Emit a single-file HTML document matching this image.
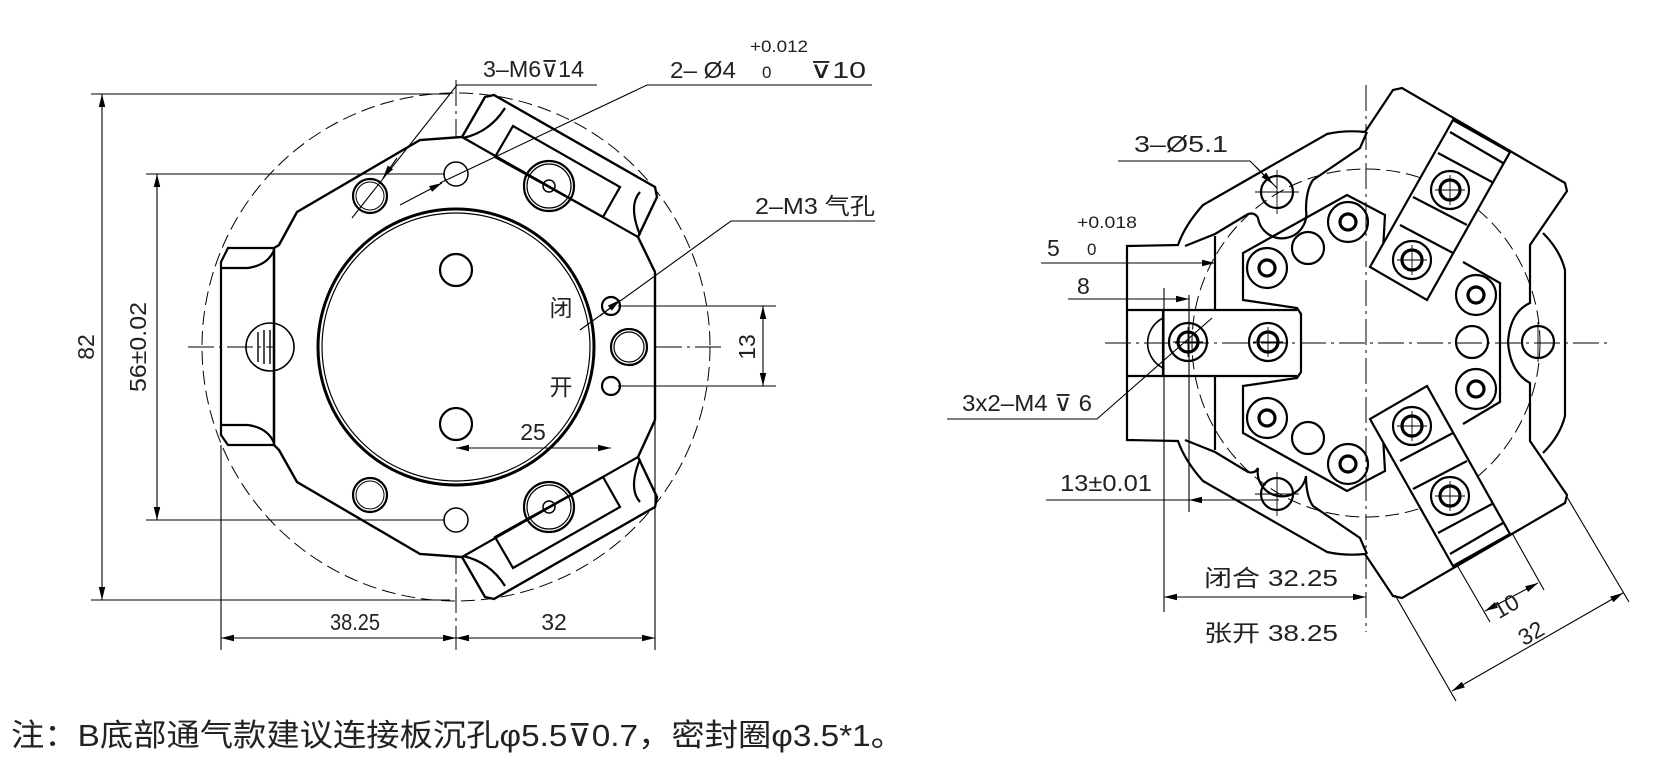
<!DOCTYPE html>
<html><head><meta charset="utf-8"><style>
html,body{margin:0;padding:0;background:#fff;}
svg{display:block;}
text{font-family:"Liberation Sans","Noto Sans CJK SC",sans-serif;fill:#222;}
</style></head><body>
<svg width="1677" height="783" viewBox="0 0 1677 783" xmlns="http://www.w3.org/2000/svg">
<defs>
<marker id="a" viewBox="0 0 10 10" refX="10" refY="5" markerWidth="13" markerHeight="13" markerUnits="userSpaceOnUse" orient="auto-start-reverse"><path d="M0,2.5 L10,5 L0,7.5 Z" fill="#000"/></marker>
</defs>
<g fill="none" stroke="#000">
<!-- ========== LEFT VIEW ========== -->
<g stroke-width="1" stroke-dasharray="14,6">
<circle cx="456" cy="347" r="254"/>
<circle cx="456" cy="347" r="172"/>
</g>
<g stroke-width="1" stroke-dasharray="26,5,3,5">
<line x1="456" y1="80" x2="456" y2="650"/>
<line x1="188" y1="347" x2="722" y2="347"/>
<line x1="611" y1="292" x2="611" y2="455"/>
</g>
<g stroke-width="2.4" fill="#fff">
<path d="M462,137 L485,97 L494,95 L655,187 L657,197 L638,237 L655,272 L655,420 L638,457 L657,497 L655,507 L494,599 L485,597 L462,557 L420,554 L297,482 L279,450 L274,445 L274,248 L279,245 L297,212 L420,140 Z"/>
</g>
<g stroke-width="2.2">
<line x1="462" y1="137" x2="638" y2="237"/>
<line x1="462" y1="557" x2="638" y2="457"/>
<path d="M513,126 L620,187 L603,217 L495,157 Z"/>
<path d="M513,568 L620,507 L603,477 L495,537 Z"/>
<path d="M463,138 Q490,132 505,108"/>
<path d="M463,556 Q490,562 505,586"/>
<path d="M640,192 Q628,205 640,235"/>
<path d="M640,502 Q628,489 640,459"/>
<path d="M221,262 L228,248 L274,248 L274,445 L228,445 L221,435 Z"/>
<path d="M221,268 L248,268 Q268,265 274,250"/>
<path d="M221,425 L248,425 Q268,428 274,443"/>
<circle cx="456" cy="347" r="138" stroke-width="3"/>
<circle cx="456" cy="347" r="134" stroke-width="1.2"/>
<circle cx="456" cy="270" r="16"/>
<circle cx="456" cy="424" r="16"/>
<circle cx="456" cy="174" r="12" stroke-width="1.5"/>
<circle cx="456" cy="520" r="12" stroke-width="1.5"/>
<circle cx="370" cy="196" r="17"/><circle cx="370" cy="196" r="14" stroke-width="1"/>
<circle cx="370" cy="495" r="17"/><circle cx="370" cy="495" r="14" stroke-width="1"/>
<circle cx="549" cy="186" r="25"/><circle cx="549" cy="186" r="22" stroke-width="1.2"/><circle cx="549" cy="186" r="6" stroke-width="1.5"/>
<circle cx="549" cy="507" r="25"/><circle cx="549" cy="507" r="22" stroke-width="1.2"/><circle cx="549" cy="507" r="6" stroke-width="1.5"/>
<circle cx="611" cy="306" r="9"/>
<circle cx="611" cy="386" r="9"/>
<circle cx="629" cy="347" r="18"/><circle cx="629" cy="347" r="15" stroke-width="1.2"/>
<circle cx="270" cy="347" r="24" stroke-width="1.6"/>
<line x1="258" y1="332" x2="258" y2="362" stroke-width="1.4"/>
<line x1="264" y1="330" x2="264" y2="364" stroke-width="1.4"/>
<line x1="270" y1="330" x2="270" y2="364" stroke-width="1.4"/>
</g>
<g stroke-width="1.1">
<line x1="91" y1="94" x2="450" y2="94"/>
<line x1="91" y1="600" x2="450" y2="600"/>
<line x1="102" y1="94" x2="102" y2="600" marker-start="url(#a)" marker-end="url(#a)"/>
<line x1="146" y1="174" x2="445" y2="174"/>
<line x1="146" y1="520" x2="445" y2="520"/>
<line x1="157" y1="174" x2="157" y2="520" marker-start="url(#a)" marker-end="url(#a)"/>
<line x1="221" y1="445" x2="221" y2="650"/>
<line x1="655" y1="420" x2="655" y2="650"/>
<line x1="221" y1="638" x2="456" y2="638" marker-start="url(#a)" marker-end="url(#a)"/>
<line x1="456" y1="638" x2="655" y2="638" marker-start="url(#a)" marker-end="url(#a)"/>
<line x1="618" y1="306" x2="776" y2="306"/>
<line x1="618" y1="386" x2="776" y2="386"/>
<line x1="763" y1="306" x2="763" y2="386" marker-start="url(#a)" marker-end="url(#a)"/>
<line x1="456" y1="448" x2="611" y2="448" marker-start="url(#a)" marker-end="url(#a)"/>
<polyline points="597,85 457,85 352,218"/>
<line x1="397" y1="158" x2="383" y2="178" marker-end="url(#a)"/>
<polyline points="872,85 647,85 440,183"/>
<line x1="400" y1="205" x2="442" y2="183" marker-end="url(#a)"/>
<polyline points="875,221 731,221 580,330"/>
<line x1="600" y1="316" x2="620" y2="300" marker-end="url(#a)"/>
</g>
<!-- ========== RIGHT VIEW ========== -->
<circle cx="1366" cy="343" r="174" stroke-width="1" stroke-dasharray="14,6"/>
<g stroke-width="1" stroke-dasharray="26,5,3,5">
<line x1="1366" y1="85" x2="1366" y2="632"/>
<line x1="1105" y1="343" x2="1609" y2="343"/>
</g>
<g stroke-width="2.2">
<path d="M1127,440 L1127,246 L1178,245 Q1185,225 1203,205 L1327,134 Q1345,130 1365,132 L1393,90 L1402,88 L1565,183 L1567,191 L1530,245 L1530,303 Q1510,312 1508,342 Q1510,372 1530,383 L1530,441 L1567,495 L1565,503 L1402,598 L1393,596 L1365,554 Q1345,556 1327,552 L1203,481 Q1185,461 1178,441 Z"/>
<path d="M1543,233 Q1560,250 1565,270 L1565,416 Q1560,436 1543,453"/>
<path d="M1185,246 Q1200,240 1215,234 L1248,214 Q1255,212 1258,218 A22,22 0 0 0 1306,210 Q1306,190 1313,180 L1360,148 L1367,132"/>
<path d="M1185,440 Q1200,446 1215,452 L1248,472 Q1255,474 1258,468 A22,22 0 0 0 1306,476 Q1306,496 1313,506 L1360,538 L1367,554"/>
<line x1="1215" y1="236" x2="1215" y2="310"/>
<line x1="1215" y1="376" x2="1215" y2="450"/>
<line x1="1127" y1="310" x2="1297" y2="310"/>
<line x1="1127" y1="376" x2="1297" y2="376"/>
<line x1="1163" y1="310" x2="1163" y2="376"/>
<path d="M1163,318 A28,28 0 0 0 1163,368" stroke-width="1.6"/>
<!-- central plate -->
<path d="M1383,250 L1385,215 L1347,195 L1243,253 L1243,300 L1297,308 L1301,314 L1301,372 L1297,378 L1243,386 L1243,433 L1347,491 L1385,471 L1383,436"/>
<path d="M1463,262 L1500,283 L1500,402 L1463,424"/>
<!-- upper finger -->
<path fill="#fff" d="M1453,120 L1510,152 L1427,300 L1370,267 Z"/>
<path d="M1450,132 L1503,163 M1438,153 L1492,182 M1413,197 L1467,225 M1400,225 L1453,253"/>
<!-- lower finger -->
<path fill="#fff" d="M1453,566 L1510,534 L1427,386 L1370,419 Z"/>
<path d="M1450,554 L1503,523 M1438,533 L1492,504 M1413,489 L1467,461 M1400,461 L1453,433"/>
<circle cx="1277" cy="192" r="16"/>
<circle cx="1277" cy="494" r="16"/>
<circle cx="1538" cy="342" r="16"/>
<circle cx="1308" cy="248" r="16"/>
<circle cx="1472" cy="342" r="16"/>
<circle cx="1308" cy="438" r="16"/>
</g>
<g stroke-width="2.2">
<g><circle cx="1267" cy="268" r="20"/><circle cx="1267" cy="268" r="8" stroke-width="3.2"/></g>
<g><circle cx="1348" cy="222" r="20"/><circle cx="1348" cy="222" r="8" stroke-width="3.2"/></g>
<g><circle cx="1476" cy="295" r="20"/><circle cx="1476" cy="295" r="8" stroke-width="3.2"/></g>
<g><circle cx="1476" cy="389" r="20"/><circle cx="1476" cy="389" r="8" stroke-width="3.2"/></g>
<g><circle cx="1348" cy="464" r="20"/><circle cx="1348" cy="464" r="8" stroke-width="3.2"/></g>
<g><circle cx="1267" cy="418" r="20"/><circle cx="1267" cy="418" r="8" stroke-width="3.2"/></g>
<g><circle cx="1268" cy="342" r="19"/><circle cx="1268" cy="342" r="10" stroke-width="3.2"/></g>
<g><circle cx="1188" cy="342" r="19"/><circle cx="1188" cy="342" r="10" stroke-width="3.2"/></g>
<g><circle cx="1450" cy="190" r="19"/><circle cx="1450" cy="190" r="10" stroke-width="3.2"/></g>
<g><circle cx="1412" cy="260" r="19"/><circle cx="1412" cy="260" r="10" stroke-width="3.2"/></g>
<g><circle cx="1450" cy="496" r="19"/><circle cx="1450" cy="496" r="10" stroke-width="3.2"/></g>
<g><circle cx="1412" cy="426" r="19"/><circle cx="1412" cy="426" r="10" stroke-width="3.2"/></g>
</g>
<g stroke-width="0.9">
<path d="M1435,190 H1465 M1450,175 V205 M1397,260 H1427 M1412,245 V275 M1435,496 H1465 M1450,481 V511 M1397,426 H1427 M1412,411 V441 M1253,342 H1283 M1268,327 V357 M1173,342 H1203 M1188,327 V357 M1255,192 H1299 M1277,170 V214 M1255,494 H1299 M1277,472 V516 M1538,322 V362"/>
</g>
<g stroke-width="1.1">
<polyline points="1118,161 1250,161 1277,188"/>
<line x1="1255" y1="166" x2="1273" y2="184" marker-end="url(#a)"/>
<line x1="1041" y1="263" x2="1215" y2="263" marker-end="url(#a)"/>
<line x1="1068" y1="299" x2="1189" y2="299" marker-end="url(#a)"/>
<line x1="1164" y1="288" x2="1164" y2="612"/>
<line x1="1189" y1="295" x2="1189" y2="512"/>
<polyline points="947,419 1097,419 1212,318"/>
<line x1="1046" y1="500" x2="1279" y2="500"/>
<line x1="1215" y1="500" x2="1189" y2="500" marker-end="url(#a)"/>
<line x1="1164" y1="597" x2="1366" y2="597" marker-start="url(#a)" marker-end="url(#a)"/>
<line x1="1395" y1="595" x2="1456" y2="701"/>
<line x1="1567" y1="497" x2="1629" y2="602"/>
<line x1="1452" y1="691" x2="1623" y2="593" marker-start="url(#a)" marker-end="url(#a)"/>
<line x1="1457" y1="565" x2="1490" y2="622"/>
<line x1="1512" y1="533" x2="1544" y2="590"/>
<line x1="1485" y1="611" x2="1538" y2="583" marker-start="url(#a)" marker-end="url(#a)"/>
</g>
</g>
<!-- ========== TEXT ========== -->
<g font-size="23">
<text x="86" y="347" text-anchor="middle" transform="rotate(-90 86 347)" dy="8">82</text>
<text x="138" y="347" text-anchor="middle" transform="rotate(-90 138 347)" dy="8" textLength="90" lengthAdjust="spacingAndGlyphs">56±0.02</text>
<text x="355" y="630" text-anchor="middle" textLength="50" lengthAdjust="spacingAndGlyphs">38.25</text>
<text x="554" y="630" text-anchor="middle">32</text>
<text x="747" y="347" text-anchor="middle" transform="rotate(-90 747 347)" dy="8">13</text>
<text x="533" y="440" text-anchor="middle">25</text>
<text x="561" y="316" text-anchor="middle">闭</text>
<text x="561" y="395" text-anchor="middle">开</text>
<text x="483" y="77" textLength="101" lengthAdjust="spacingAndGlyphs">3–M6⊽14</text>
<text x="670" y="78" textLength="66" lengthAdjust="spacingAndGlyphs">2– Ø4</text>
<text x="750" y="52" font-size="17" textLength="58" lengthAdjust="spacingAndGlyphs">+0.012</text>
<text x="762" y="78" font-size="17">0</text>
<text x="810" y="78" textLength="56" lengthAdjust="spacingAndGlyphs">⊽10</text>
<text x="755" y="214" textLength="120" lengthAdjust="spacingAndGlyphs">2–M3 气孔</text>
<text x="1134" y="152" textLength="94" lengthAdjust="spacingAndGlyphs">3–Ø5.1</text>
<text x="1047" y="256">5</text>
<text x="1077" y="228" font-size="17" textLength="60" lengthAdjust="spacingAndGlyphs">+0.018</text>
<text x="1087" y="255" font-size="17">0</text>
<text x="1077" y="294">8</text>
<text x="962" y="411" textLength="130" lengthAdjust="spacingAndGlyphs">3x2–M4 ⊽ 6</text>
<text x="1060" y="491" textLength="92" lengthAdjust="spacingAndGlyphs">13±0.01</text>
<text x="1204" y="586" textLength="134" lengthAdjust="spacingAndGlyphs">闭合 32.25</text>
<text x="1204" y="641" textLength="134" lengthAdjust="spacingAndGlyphs">张开 38.25</text>
<text x="1510" y="613" text-anchor="middle" transform="rotate(-30 1510 613)">10</text>
<text x="1535" y="640" text-anchor="middle" transform="rotate(-30 1535 640)">32</text>
</g>
<text x="11" y="746" font-size="31" fill="#333" textLength="893" lengthAdjust="spacingAndGlyphs">注：B底部通气款建议连接板沉孔φ5.5⊽0.7，密封圈φ3.5*1。</text>
</svg>
</body></html>
